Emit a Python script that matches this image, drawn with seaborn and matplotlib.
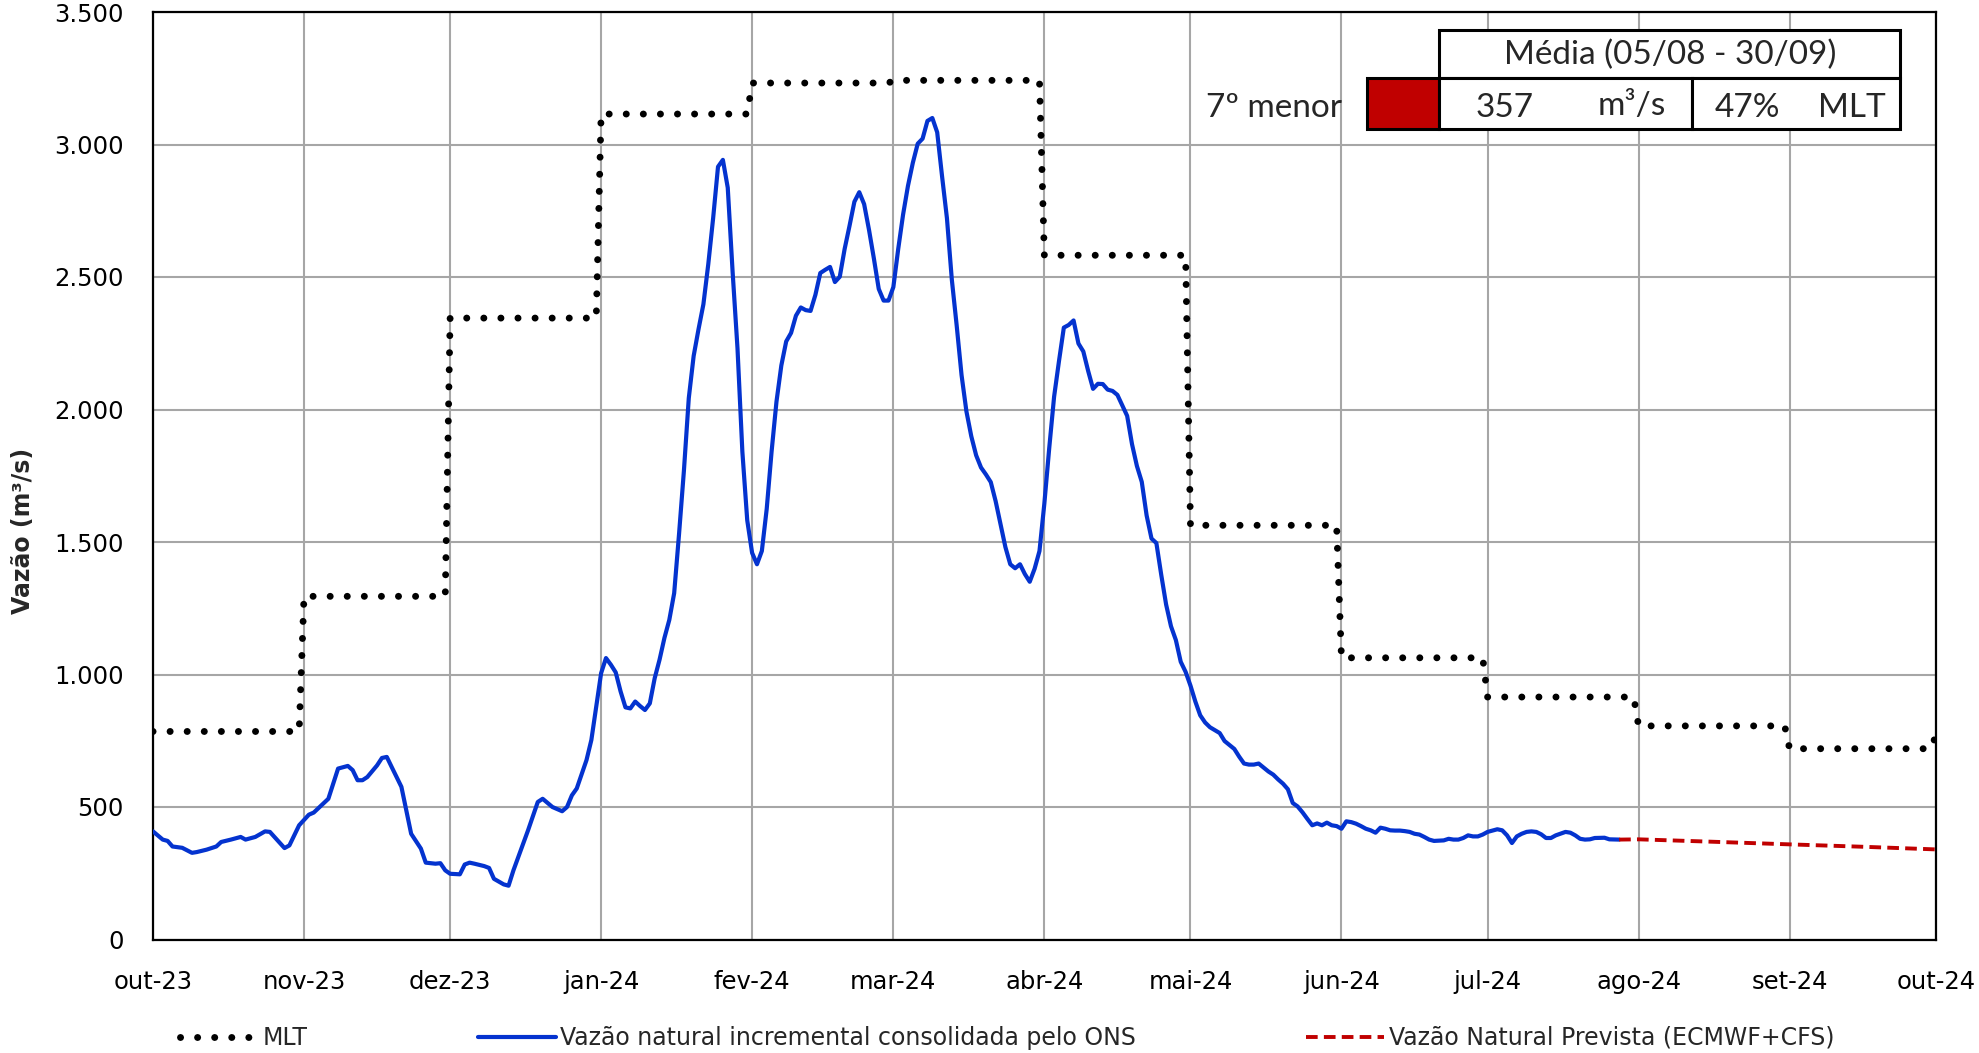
import numpy as np
import pandas as pd
import matplotlib
matplotlib.use('Agg')
import matplotlib.pyplot as plt
import seaborn as sns
from matplotlib.patches import Rectangle
from matplotlib.ticker import FuncFormatter

inicio = pd.Timestamp('2023-10-01')

# MLT mensal (m3/s)
mlt_meses = ['2023-10', '2023-11', '2023-12', '2024-01', '2024-02', '2024-03', '2024-04',
             '2024-05', '2024-06', '2024-07', '2024-08', '2024-09', '2024-10']
mlt_valores = [785, 1295, 2345, 3115, 3232, 3242, 2582, 1563, 1063, 915, 806, 720, 768]

# vazao natural incremental consolidada (dias desde 01/10/2023)
obs_dia = [0, 2, 3, 4, 6, 8, 9, 11, 13, 14, 16, 18, 19, 21, 23, 24, 27, 28, 30, 32, 33, 36, 38, 40,
           41, 42, 43, 44, 46, 47, 48, 49, 51, 52, 53, 55, 56, 58, 59, 60, 61, 63, 64, 65, 66, 68,
           69, 70, 72, 73, 74, 77, 79, 80, 82, 84, 85, 86, 87, 89, 90, 91, 92, 93, 94, 95, 96, 97,
           98, 99, 100, 101, 102, 103, 104, 105, 106, 107, 108, 109, 110, 111, 112, 113, 114, 115,
           116, 117, 118, 119, 120, 121, 122, 123, 124, 125, 126, 127, 128, 129, 130, 131, 132,
           133, 134, 135, 136, 137, 138, 139, 140, 141, 142, 143, 144, 145, 146, 147, 148, 149,
           150, 151, 152, 153, 154, 155, 156, 157, 158, 159, 160, 161, 162, 163, 164, 165, 166,
           167, 168, 169, 170, 171, 172, 173, 174, 175, 176, 177, 178, 179, 180, 181, 182, 183,
           184, 185, 186, 187, 188, 189, 190, 191, 192, 193, 194, 195, 196, 197, 198, 199, 200,
           201, 202, 203, 204, 205, 206, 207, 208, 209, 210, 211, 212, 213, 214, 215, 216, 217,
           219, 220, 222, 223, 224, 225, 226, 227, 228, 229, 230, 231, 232, 233, 234, 235, 236,
           237, 238, 239, 240, 241, 242, 243, 244, 245, 246, 247, 248, 249, 250, 251, 252, 253,
           254, 255, 256, 257, 258, 259, 260, 261, 262, 263, 265, 266, 267, 268, 269, 270, 271,
           272, 273, 274, 276, 277, 278, 279, 280, 281, 282, 283, 284, 285, 286, 287, 288, 290,
           291, 292, 293, 294, 295, 296, 298, 299, 301]
obs_vazao = [408, 377, 372, 351, 346, 327, 330, 339, 351, 368, 377, 387, 377, 387, 408, 406, 345,
             355, 431, 471, 479, 531, 645, 655, 639, 601, 601, 613, 657, 685, 689, 651, 576, 487,
             399, 343, 290, 286, 288, 261, 248, 246, 283, 290, 286, 277, 270, 229, 208, 203, 261,
             412, 519, 531, 500, 484, 500, 544, 570, 677, 753, 879, 1005, 1062, 1037, 1008, 936,
             876, 872, 898, 881, 866, 891, 986, 1056, 1138, 1206, 1307, 1530, 1769, 2043, 2202,
             2303, 2397, 2548, 2722, 2916, 2942, 2837, 2519, 2231, 1841, 1582, 1459, 1416, 1466,
             1625, 1841, 2029, 2166, 2257, 2289, 2354, 2385, 2375, 2372, 2433, 2515, 2527, 2538,
             2481, 2501, 2606, 2693, 2784, 2820, 2775, 2678, 2570, 2455, 2411, 2411, 2462, 2606,
             2736, 2844, 2931, 3003, 3022, 3089, 3100, 3046, 2880, 2722, 2491, 2317, 2130, 1993,
             1899, 1827, 1781, 1755, 1726, 1654, 1567, 1481, 1416, 1401, 1416, 1379, 1350, 1399,
             1466, 1645, 1854, 2048, 2182, 2309, 2319, 2336, 2249, 2219, 2145, 2078, 2097, 2096,
             2075, 2070, 2055, 2015, 1976, 1869, 1787, 1727, 1600, 1513, 1496, 1376, 1264, 1182,
             1130, 1048, 1010, 958, 898, 846, 819, 801, 779, 749, 719, 690, 664, 660, 660, 664,
             649, 634, 622, 604, 588, 567, 515, 502, 480, 455, 431, 438, 431, 441, 431, 428, 418,
             446, 443, 437, 428, 418, 412, 403, 422, 418, 412, 411, 411, 409, 406, 399, 396, 387,
             377, 372, 374, 380, 377, 377, 383, 393, 389, 389, 396, 406, 416, 412, 393, 364, 389,
             399, 406, 408, 406, 397, 383, 383, 393, 406, 403, 393, 380, 377, 378, 383, 384, 378,
             377]

# vazao natural prevista (ECMWF+CFS)
prev_dia = [301, 305, 320, 336, 351, 366]
prev_vazao = [377, 378, 369, 359, 350, 340]

meses_rotulo = ['out-23', 'nov-23', 'dez-23', 'jan-24', 'fev-24', 'mar-24', 'abr-24',
                'mai-24', 'jun-24', 'jul-24', 'ago-24', 'set-24', 'out-24']

# tabela
tab_titulo = 'Média (05/08 - 30/09)'
tab_rank = '7º menor'
tab_media = '357'
tab_pct = '47%'

# montar dataframes
dias = pd.date_range('2023-10-01', '2024-10-01', freq='D')
mapa_mlt = dict(zip(mlt_meses, mlt_valores))
df_mlt = pd.DataFrame({'data': dias, 'vazao': [mapa_mlt[d.strftime('%Y-%m')] for d in dias]})
df_obs = pd.DataFrame({'data': inicio + pd.to_timedelta(obs_dia, unit='D'), 'vazao': obs_vazao})
df_prev = pd.DataFrame({'data': inicio + pd.to_timedelta(prev_dia, unit='D'), 'vazao': prev_vazao})

sns.set_style('white')
plt.rcParams['font.family'] = ['DejaVu Sans']

W, H = 1979, 1053
fig = plt.figure(figsize=(W / 100, H / 100), dpi=100)
ax = fig.add_axes([153 / W, 1 - 939.5 / H, (1935.7 - 153) / W, (939.5 - 12) / H])

sns.lineplot(data=df_mlt, x='data', y='vazao', ax=ax, color='black', lw=5.0,
             linestyle=(0, (0.01, 2.45)), dash_capstyle='round', label='MLT', zorder=3)
sns.lineplot(data=df_obs, x='data', y='vazao', ax=ax, color='#0433CF', lw=3.0,
             label='Vazão natural incremental consolidada pelo ONS', zorder=4)
sns.lineplot(data=df_prev, x='data', y='vazao', ax=ax, color='#C00000', lw=2.8,
             linestyle=(0, (3.0, 1.6)), label='Vazão Natural Prevista (ECMWF+CFS)', zorder=4)

ticks = pd.date_range('2023-10-01', '2024-10-01', freq='MS')
ax.set_xlim(ticks[0], ticks[-1])
ax.set_xticks(ticks)
ax.set_xticklabels(meses_rotulo)
ax.set_ylim(0, 3500)
ax.set_yticks(np.arange(0, 3501, 500))
ax.yaxis.set_major_formatter(FuncFormatter(lambda v, p: f'{int(v):,}'.replace(',', '.')))
ax.grid(True, color='#A6A6A6', lw=1.5)
ax.set_axisbelow(True)
for s in ax.spines.values():
    s.set_color('black')
    s.set_linewidth(1.6)
ax.tick_params(axis='y', length=7, width=1.3, pad=14, labelsize=17.5, colors='black')
ax.tick_params(axis='x', length=0, pad=22, labelsize=17.5, colors='black')
ax.set_xlabel('')
ax.set_ylabel('Vazão (m³/s)', fontsize=17, fontweight='bold')
ax.yaxis.set_label_coords(-0.066, 0.44)

h, l = ax.get_legend_handles_labels()
ax.get_legend().remove()
fig.legend(h, l, loc='center', bbox_to_anchor=(0.509, 1 - 1038 / H), ncol=3, frameon=False,
           fontsize=17, handlelength=3.3, columnspacing=7.2, handletextpad=0.2)


# tabela no canto superior direito (coordenadas em pixels da figura)
def px(x, y):
    return (x / W, 1 - y / H)


def caixa(x0, y0, x1, y1, fc='white'):
    fig.patches.append(Rectangle(px(x0, y1), (x1 - x0) / W, (y1 - y0) / H, transform=fig.transFigure,
                                 fc=fc, ec='black', lw=2.2, zorder=10))


caixa(1439, 30, 1900, 78)
caixa(1367, 78, 1439, 129, fc='#C00000')
caixa(1439, 78, 1692, 129)
caixa(1692, 78, 1900, 129)
fam = ['Lato', 'DejaVu Sans']
fs = 24
fig.text(*px(1670, 55), tab_titulo, ha='center', va='center', fontsize=fs, family=fam, zorder=11)
fig.text(*px(1342, 108), tab_rank, ha='right', va='center', fontsize=fs, family=fam, zorder=11)
fig.text(*px(1505, 108), tab_media, ha='center', va='center', fontsize=fs, family=fam, zorder=11)
fig.text(*px(1632, 106), 'm³/s', ha='center', va='center', fontsize=fs, family=fam, zorder=11)
fig.text(*px(1747, 108), tab_pct, ha='center', va='center', fontsize=fs, family=fam, zorder=11)
fig.text(*px(1852, 108), 'MLT', ha='center', va='center', fontsize=fs, family=fam, zorder=11)

fig.savefig('out.png', dpi=100)
